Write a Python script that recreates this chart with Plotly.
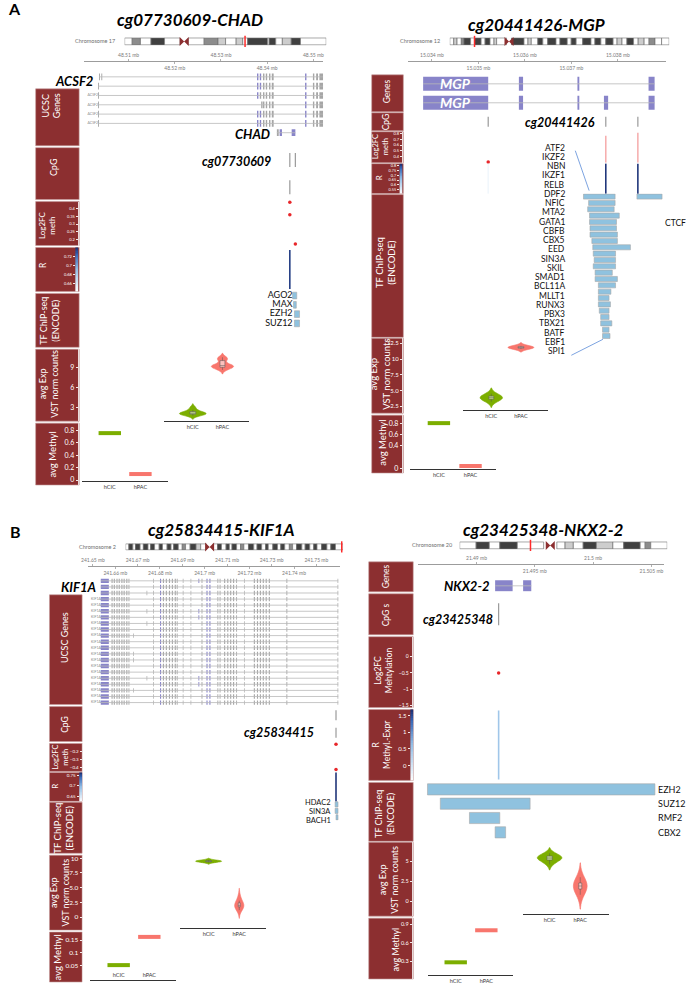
import numpy as np
import plotly.graph_objects as go

W, H = 686, 986
FONT = "Lato"
BOX_RED = "#8c2f30"
GREEN = "#7cae00"
RED = "#f8766d"
EXON = {"g": "#a6a6a6", "b": "#8884c9"}
BAND = {"w": "#ffffff", "l": "#cdcdcd", "g": "#8c8c8c", "d": "#404040", "c": "rgba(0,0,0,0)"}
TF_BLUE = "#8fc2df"
R_SCALE = [[0, "#ffffff"], [0.5, "#94bfe6"], [0.85, "#3565b4"], [1, "#1b2a6b"]]
GROUPS = ["hCIC", "hPAC"]

# ====================== DATA ======================
# ---- Panel A left: cg07730609-CHAD (chromosome 17) ----
A1_band_w = [23, 25, 32, 41, 47, 25, 48, 42, 23, 32, 20, 15, 60, 5, 20, 20, 27, 28, 78]
A1_band_c = list("wgwdwcwglwlwdwdwldw")
A1_cen, A1_mark = 180.5, 365
A1_ticks_top = [48.51, 48.53, 48.55]
A1_ticks_bot = [48.52, 48.54]
A1_acsf2_shared = [(48.5391, 48.5394, "g"), (48.5397, 48.5400, "g"), (48.5404, 48.5407, "g"),
                   (48.5410, 48.5414, "g"), (48.5482, 48.5485, "b"), (48.5499, 48.5502, "g"),
                   (48.5506, 48.5510, "g"), (48.5513, 48.5521, "g")]
A1_acsf2_first = [
    [(48.5036, 48.5038, "g"), (48.5041, 48.5043, "g"), (48.5378, 48.5381, "b"), (48.5384, 48.5387, "b")],
    [(48.5034, 48.5036, "g"), (48.5378, 48.5381, "b"), (48.5384, 48.5387, "b")],
    [(48.5034, 48.5036, "g"), (48.5378, 48.5381, "b"), (48.5384, 48.5387, "g")],
    [(48.5034, 48.5036, "g"), (48.5387, 48.5390, "g")],
    [(48.5034, 48.5036, "g"), (48.5378, 48.5381, "b"), (48.5384, 48.5387, "b")],
    [(48.5034, 48.5036, "g"), (48.5378, 48.5381, "b"), (48.5384, 48.5387, "b")],
]
A1_acsf2_start = [48.5036, 48.5034, 48.5034, 48.5034, 48.5034, 48.5034]
A1_acsf2_end = 48.5521
A1_chad = (48.5421, 48.5461, [(48.5421, 48.5425, "g"), (48.5427, 48.5432, "b"), (48.5453, 48.5461, "b")])
A1_cpg_pos = [48.5449, 48.5461, 48.5449]
A1_cpg_row = [0, 0, 1]
A1_fc_pos = [48.5449, 48.5449, 48.5461]
A1_fc_val = [0.44, 0.36, 0.17]
A1_r_pos = [48.5449]
A1_r_val = [0.735]
A1_tf_lab = ["AGO2", "MAX", "EZH2", "SUZ12"]
A1_tf_s = [48.5455, 48.5457, 48.5459, 48.5459]
A1_tf_e = [48.5464, 48.5463, 48.5470, 48.5470]
A1_exp_hcic = [1.7, 1.85, 1.95, 2.0, 2.05, 2.1, 2.2, 2.35, 2.6, 3.0]
A1_exp_hpac = [8.6, 8.9, 9.0, 9.1, 9.2, 9.3, 9.4, 10.0, 10.3, 10.5]
A1_meth = [0.752, 0.096]

# ---- Panel A right: cg20441426-MGP (chromosome 12) ----
A2_band_w = [12, 10, 13, 8, 20, 12, 20, 12, 15, 12, 8, 30, 15, 38, 12, 10, 20, 15, 15, 25,
             12, 22, 12, 15, 20, 25, 12, 18, 15, 22, 12, 15, 15, 20, 14, 18, 15, 18, 20, 23]
A2_band_c = list("wlwgdwdwdwlwcdwlwdwdwdwdwdwdwdwlwdwlwgww")
A2_cen, A2_mark = 179.5, 75
A2_ticks_top = [15.034, 15.036, 15.038]
A2_ticks_bot = [15.035, 15.037]
A2_mgp = [
    (15.03381, 15.03879, [(15.03381, 15.03521, "b"), (15.03587, 15.03596, "b"),
                          (15.03713, 15.03717, "b"), (15.03866, 15.03879, "b")]),
    (15.03381, 15.03879, [(15.03381, 15.03521, "b"), (15.03587, 15.03596, "b"),
                          (15.03713, 15.03717, "b"), (15.03770, 15.03779, "b"), (15.03866, 15.03879, "b")]),
]
A2_cpg_pos = [15.03521, 15.03774, 15.03843]
A2_fc_pos = [15.03521]
A2_fc_val = [0.31]
A2_fcbar_pos = [15.03774, 15.03843]
A2_fcbar_val = [0.76, 0.81]
A2_r_pos = [15.03521, 15.03774, 15.03843]
A2_r_val = [0.53, 0.81, 0.81]
A2_tf_lab = ["ATF2", "IKZF2", "NBN", "IKZF1", "RELB", "DPF2", "NFIC", "MTA2", "GATA1", "CBFB", "CBX5",
             "EED", "SIN3A", "SKIL", "SMAD1", "BCL11A", "MLLT1", "RUNX3", "PBX3", "TBX21", "BATF", "EBF1", "SPI1"]
A2_tf_s = [15.03726, 15.03737, 15.03735, 15.03739, 15.03739, 15.03740, 15.03740, 15.03744, 15.03746,
           15.03747, 15.03749, 15.03747, 15.03751, 15.03751, 15.03758, 15.03758, 15.03758, 15.03758,
           15.03760, 15.03763, 15.03763, 15.03767, 15.03767]
A2_tf_e = [15.03794, 15.03794, 15.03792, 15.03803, 15.03797, 15.03797, 15.03799, 15.03799, 15.03827,
           15.03795, 15.03795, 15.03795, 15.03788, 15.03799, 15.03795, 15.03785, 15.03781, 15.03784,
           15.03781, 15.03781, 15.03787, 15.03781, 15.03783]
A2_ctcf = (15.03841, 15.03895)
A2_exp_hcic = [3.2, 3.5, 3.7, 3.8, 3.9, 4.0, 4.2, 4.5]
A2_exp_hpac = [11.6, 11.7, 11.8, 11.8, 11.9, 12.0, 12.1]
A2_meth = [0.80, 0.036]

# ---- Panel B left: cg25834415-KIF1A (chromosome 2) ----
B1_band_w = [10, 12, 8, 14, 10, 14, 8, 12, 14, 10, 14, 12, 8, 14, 12, 10, 14, 18, 14, 17, 20,
             14, 12, 14, 10, 8, 14, 12, 10, 14, 16, 10, 14, 12, 8, 14, 14, 10, 12, 14, 10, 12, 16,
             10, 14, 12, 10, 14, 16, 12, 14, 23]
B1_band_c = list("wdwdwdwdwdwdwdwgwdlw" + "c" + "wdwdwdwgwdwdwdwdwdwgwdwdwdwdwdw")
B1_cen, B1_mark = 255, 656
B1_ticks_top = [241.65, 241.67, 241.69, 241.71, 241.73, 241.75]
B1_ticks_bot = [241.66, 241.68, 241.70, 241.72, 241.74]
B1_tx = (241.6535, 241.7598)
B1_exons_common = [
    (241.6535, 241.6571, "b"),
    (241.6583, 241.6588, "g"), (241.6593, 241.6598, "g"), (241.6605, 241.6610, "g"), (241.6615, 241.6620, "g"),
    (241.6627, 241.6632, "g"), (241.6637, 241.6642, "g"), (241.6649, 241.6654, "g"), (241.6659, 241.6663, "g"),
    (241.6769, 241.6772, "g"),
    (241.6800, 241.6805, "b"), (241.6813, 241.6818, "g"), (241.6826, 241.6831, "g"), (241.6840, 241.6845, "g"),
    (241.6853, 241.6858, "g"), (241.6866, 241.6871, "g"), (241.6875, 241.6879, "g"),
    (241.6902, 241.6905, "g"), (241.6937, 241.6940, "g"), (241.6986, 241.6990, "g"),
    (241.7008, 241.7013, "b"), (241.7021, 241.7026, "b"),
    (241.7057, 241.7061, "g"), (241.7067, 241.7071, "g"),
    (241.7087, 241.7092, "g"), (241.7101, 241.7106, "g"), (241.7114, 241.7119, "g"),
    (241.7127, 241.7132, "g"), (241.7141, 241.7145, "g"),
    (241.7176, 241.7179, "g"),
    (241.7220, 241.7225, "g"), (241.7234, 241.7239, "g"), (241.7247, 241.7252, "g"),
    (241.7260, 241.7265, "g"), (241.7273, 241.7278, "g"), (241.7287, 241.7292, "g"),
    (241.7366, 241.7370, "g"), (241.7595, 241.7598, "g"),
]
B1_opt_exons = [(241.6740, 241.6743, "g"), (241.6680, 241.6683, "g"), (241.6972, 241.6976, "b")]
B1_opt_rows = [[2, 5, 7, 16], [9, 12, 13, 18], [0, 5, 6, 16, 17]]
B1_n_tx = 21
B1_cpg_pos = [241.7588, 241.7588]
B1_cpg_row = [0, 1]
B1_fc_pos = [241.7588, 241.7588]
B1_fc_val = [-0.11, -0.425]
B1_r_pos = [241.7588]
B1_r_val = [0.76]
B1_tf_lab = ["HDAC2", "SIN3A", "BACH1"]
B1_tf_s = [241.7584, 241.7584, 241.7588]
B1_tf_e = [241.7597, 241.7597, 241.7597]
B1_exp_hcic = [9.3, 9.4, 9.45, 9.5, 9.55, 9.6, 9.7]
B1_exp_hpac = [1.2, 1.6, 1.8, 1.9, 2.0, 2.1, 2.3, 2.8, 3.5]
B1_meth = [0.051, 0.163]

# ---- Panel B right: cg23425348-NKX2-2 (chromosome 20) ----
B2_band_w = [50, 40, 32, 53, 80, 40, 25, 25, 30, 40, 50, 33, 50, 15, 17, 50]
B2_band_c = list("wdwdwcwlwdlwdwgw")
B2_cen, B2_mark = 275, 215
B2_ticks_top = [21.49, 21.50]
B2_ticks_bot = [21.495, 21.505]
B2_nkx = [(21.4916, 21.4947, [(21.4916, 21.4931, "b"), (21.4940, 21.4947, "b")])]
B2_cpg_pos = [21.4919]
B2_fc_pos = [21.4919]
B2_fc_val = [-0.5]
B2_r_pos = [21.4919]
B2_r_val = [0.5]
B2_tf_lab = ["EZH2", "SUZ12", "RMF2", "CBX2"]
B2_tf_s = [21.4858, 21.4869, 21.4894, 21.4916]
B2_tf_e = [21.5053, 21.4946, 21.4920, 21.4925]
B2_exp_hcic = [4.6, 5.0, 5.2, 5.3, 5.4, 5.5, 5.6, 5.8, 6.0]
B2_exp_hpac = [0.8, 1.3, 1.6, 1.8, 1.9, 2.0, 2.2, 2.5, 3.0]
B2_meth = [0.28, 0.80]

# ====================== HELPERS ======================
fig = go.Figure()
LAY, ANN, SHP = {}, [], []
_cnt = {"x": 0, "y": 0}


def add(tr):
    tr.update(showlegend=False, hoverinfo="skip")
    fig.add_trace(tr)


def _new(kind):
    _cnt[kind] += 1
    i = _cnt[kind]
    s = "" if i == 1 else str(i)
    return kind + s, kind + "axis" + s


def xax(p0, p1, rng, **kw):
    ref, key = _new("x")
    d = dict(domain=[p0 / W, p1 / W], range=list(rng), anchor="free", position=0,
             visible=False, fixedrange=True, showgrid=False, zeroline=False)
    d.update(kw)
    LAY[key] = d
    return ref


def yax(top, bot, rng, **kw):
    ref, key = _new("y")
    d = dict(domain=[1 - bot / H, 1 - top / H], range=list(rng), anchor="free", position=0,
             visible=False, fixedrange=True, showgrid=False, zeroline=False)
    d.update(kw)
    LAY[key] = d
    return ref


def yticks(xpos, vals, size, text=None, line=True):
    d = dict(visible=True, position=xpos / W, side="left", tickvals=vals, showline=line,
             linecolor="#e9dada", linewidth=1, ticks="outside", ticklen=2.5, tickwidth=1,
             tickcolor="#f3e9e9", tickfont=dict(size=size, color="white", family=FONT))
    if text is not None:
        d["ticktext"] = text
    return d


def ann(x, y, text, size=9, color="black", xanchor="center", angle=0):
    ANN.append(dict(x=x / W, y=1 - y / H, xref="paper", yref="paper", text=text, showarrow=False,
                    font=dict(size=size, color=color, family=FONT), xanchor=xanchor,
                    yanchor="middle", textangle=angle))


def boxes(x0, x1, items):
    for label, y0, y1, lx, ly, size in items:
        SHP.append(dict(type="rect", xref="paper", yref="paper", x0=x0 / W, x1=x1 / W,
                        y0=1 - y1 / H, y1=1 - y0 / H, fillcolor=BOX_RED,
                        line=dict(color="#c49a9a", width=0.6), layer="below"))
        ann(lx, ly, label, size=size, color="white", angle=-90)


def ideogram(x0, x1, y0, y1, widths, codes, cen, mark, label, label_x):
    w = np.array(widths, float)
    ix = xax(x0, x1, (0, w.sum()))
    iy = yax(y0 - 0.7, y1 + 0.7, (-0.6, 0.6))
    base = np.concatenate([[0], np.cumsum(w)[:-1]])
    add(go.Bar(x=w, y=[0] * len(w), base=base, orientation="h", width=1,
               marker=dict(color=[BAND[c] for c in codes],
                           line=dict(color=["rgba(0,0,0,0)" if c == "c" else "#707070" for c in codes],
                                     width=0.7)),
               xaxis=ix, yaxis=iy))
    add(go.Scatter(x=[cen], y=[0], mode="markers", marker=dict(symbol="bowtie", size=9, color=BOX_RED),
                   xaxis=ix, yaxis=iy, cliponaxis=False))
    add(go.Scatter(x=[mark], y=[0], mode="markers",
                   marker=dict(symbol="line-ns-open", size=8, color="#ff2a2a", line=dict(width=1.5)),
                   xaxis=ix, yaxis=iy, cliponaxis=False))
    ann(label_x, (y0 + y1) / 2, label, size=5.5, color="#6d6d6d", xanchor="right")


def genome_axis(x0, x1, yline, mb0, mb1, top, bot):
    common = dict(visible=True, position=1 - yline / H, showline=True, linecolor="#9c9c9c", linewidth=1,
                  ticks="outside", ticklen=2, tickwidth=0.8, tickcolor="#9c9c9c",
                  tickfont=dict(size=5, color="#7a7a7a", family=FONT))
    gx = xax(x0, x1, (mb0, mb1), side="bottom", tickvals=bot,
             ticktext=[f"{v:g} mb" for v in bot], **common)
    tx = xax(x0, x1, (mb0, mb1), side="top", overlaying=gx, tickvals=top,
             ticktext=[f"{v:g} mb" for v in top], **common)
    dy = yax(yline - 1, yline, (0, 1))
    add(go.Scatter(x=[mb0], y=[0.5], mode="markers", marker=dict(opacity=0), xaxis=tx, yaxis=dy))
    return gx


def gene_track(gx, top, bot, rows, height, small_label=None, small_rows=()):
    n = len(rows)
    gy = yax(top, bot, (n - 0.5, -0.5))
    lx, ly, bs, bl, br, bc = [], [], [], [], [], []
    for r, (s, e, exons) in enumerate(rows):
        lx += [s, e, None]
        ly += [r, r, None]
        for a, b, c in exons:
            bs.append(a); bl.append(b - a); br.append(r); bc.append(EXON[c])
    add(go.Scatter(x=lx, y=ly, mode="lines", line=dict(color="#b9b9b9", width=0.8), xaxis=gx, yaxis=gy))
    add(go.Bar(x=bl, y=br, base=bs, orientation="h", width=height,
               marker=dict(color=bc, line=dict(width=0)), xaxis=gx, yaxis=gy))
    if small_label:
        add(go.Scatter(x=[rows[r][0] for r in small_rows], y=list(small_rows), mode="text",
                       text=[small_label] * len(small_rows), textposition="middle left",
                       textfont=dict(size=3.5, color="#8a8a8a", family=FONT),
                       xaxis=gx, yaxis=gy, cliponaxis=False))
    return gy


def cpg_track(gx, top, bot, rng, pos, rows, length):
    gy = yax(top, bot, rng)
    add(go.Scatter(x=pos, y=rows, mode="markers",
                   marker=dict(symbol="line-ns-open", size=length / 1.4, color="#9a9a9a", line=dict(width=1.2)),
                   xaxis=gx, yaxis=gy, cliponaxis=False))


def fc_track(gx, top, bot, rng, axis_x, ticks, tsize, pos, vals, bar_pos=None, bar_vals=None, bar_w=0):
    gy = yax(top, bot, rng, **yticks(axis_x, ticks, tsize))
    if bar_pos:
        add(go.Bar(x=bar_pos, y=np.array(bar_vals) - rng[0], base=rng[0], width=bar_w,
                   marker=dict(color="#f5a5a5", line=dict(width=0)), xaxis=gx, yaxis=gy))
    add(go.Scatter(x=pos, y=vals, mode="markers", marker=dict(color="#e8262a", size=3.5),
                   xaxis=gx, yaxis=gy, cliponaxis=False))


def r_track(gx, top, bot, rng, strip, ticks, tsize, pos, vals, length):
    gy = yax(top, bot, rng, **yticks(strip[0], ticks, tsize, line=False))
    sx = xax(strip[0], strip[1], (0, 1))
    lv = np.linspace(rng[0], rng[1], 40)
    add(go.Heatmap(x=[0.5], y=lv, z=[[v] for v in lv], colorscale=R_SCALE, zmin=rng[0], zmax=rng[1],
                   showscale=False, xaxis=sx, yaxis=gy))
    mid = [(rng[0] + rng[1]) / 2] * len(pos)
    add(go.Scatter(x=pos, y=mid, mode="markers",
                   marker=dict(symbol="line-ns-open", size=length / 1.4, color=vals, colorscale=R_SCALE,
                               cmin=rng[0], cmax=rng[1], line=dict(width=1.6)),
                   xaxis=gx, yaxis=gy, cliponaxis=False))


def tf_track(gx, top, bot, rng, starts, ends, rows, height, labels=None, lsize=9):
    gy = yax(top, bot, rng)
    s, e = np.array(starts), np.array(ends)
    add(go.Bar(x=e - s, y=rows, base=s, orientation="h", width=height,
               marker=dict(color=TF_BLUE, line=dict(color="#a7a7a7", width=0.6)), xaxis=gx, yaxis=gy))
    if labels:
        n = len(labels)
        add(go.Scatter(x=[s[:n].min()] * n, y=rows[:n], mode="text", text=labels,
                       textposition="middle left",
                       textfont=dict(size=lsize, color="#111111", family=FONT),
                       xaxis=gx, yaxis=gy, cliponaxis=False))


def cat_axis(x0, x1, rng, ybase, **kw):
    d = dict(visible=True, type="category", categoryorder="array", categoryarray=GROUPS,
             position=1 - ybase / H, side="bottom", showline=True, linecolor="#333333", linewidth=1.2,
             ticks="", tickfont=dict(size=5.5, color="#333333", family=FONT))
    d.update(kw)
    return xax(x0, x1, rng, **d)


def exp_block(top, bot, rng, axis_x, ticks, tsize, ttext, vx0, vx1, vbase, vrng, green, red, bws, widths):
    ey = yax(top, bot, rng, **yticks(axis_x, ticks, tsize, text=ttext))
    vx = cat_axis(vx0, vx1, vrng, vbase)
    for grp, vals, col, bw, wd in zip(GROUPS, [green, red], [GREEN, RED], bws, widths):
        add(go.Violin(x=[grp] * len(vals), y=vals, xaxis=vx, yaxis=ey, fillcolor=col,
                      line=dict(color=col, width=0.6), opacity=1, width=wd, bandwidth=bw,
                      spanmode="soft", points=False,
                      box=dict(visible=True, width=0.22, fillcolor="rgba(255,255,255,0.55)",
                               line=dict(color="#555555", width=0.5)),
                      meanline=dict(visible=False)))


def meth_block(top, bot, rng, axis_x, ticks, tsize, mx0, mx1, mbase, mrng, vals, **kw):
    my = yax(top, bot, rng, **yticks(axis_x, ticks, tsize))
    mx = cat_axis(mx0, mx1, mrng, mbase, **kw)
    add(go.Scatter(x=GROUPS, y=vals, mode="markers",
                   marker=dict(symbol="line-ew-open", size=16, color=[GREEN, RED], line=dict(width=4)),
                   xaxis=mx, yaxis=my, cliponaxis=False))


def title(x, y, text):
    ann(x, y, f"<b><i>{text}</i></b>", size=17)


def blabel(x, y, text, size=13, xanchor="center", color="black"):
    ann(x, y, f"<b><i>{text}</i></b>", size=size, xanchor=xanchor, color=color)


# ====================== PANEL A LEFT ======================
ann(8, 8, "<b>A</b>", size=16)
title(185, 19, "cg07730609-CHAD")
ideogram(119, 323, 37, 44, A1_band_w, A1_band_c, A1_cen, A1_mark, "Chromosome 17", 111)
gx = genome_axis(78, 320, 60, 48.50037, 48.55214, A1_ticks_top, A1_ticks_bot)
A1_rows = [(A1_acsf2_start[i], A1_acsf2_end, A1_acsf2_first[i] + A1_acsf2_shared) for i in range(6)]
A1_rows.append(A1_chad)
gene_track(gx, 71.35, 136.65, A1_rows, 0.72, "ACSF2", [2, 3, 4, 5])
blabel(89, 80, "ACSF2", xanchor="right")
blabel(268, 133, "CHAD", xanchor="right")
cpg_track(gx, 147, 199, (1.45, -0.45), A1_cpg_pos, A1_cpg_row, 14)
blabel(232, 161, "cg07730609", size=12.5)
fc_track(gx, 201, 245, (0.161, 0.445), 72, [0.2, 0.25, 0.3, 0.35, 0.4], 4, A1_fc_pos, A1_fc_val)
r_track(gx, 247, 291, (0.642, 0.74), (69, 72.5), [0.66, 0.68, 0.7, 0.72], 4, A1_r_pos, A1_r_val, 39)
tf_track(gx, 290.5, 327.7, (3.5, -0.5), A1_tf_s, A1_tf_e, list(range(4)), 0.72, A1_tf_lab, 9)
exp_block(349, 421, (0.9, 11.7), 72, [3, 6, 9], 7, None, 159, 245, 421, (-0.967, 1.9),
          A1_exp_hcic, A1_exp_hpac, (0.25, 0.3), (0.9, 0.75))
meth_block(423, 485, (-0.08, 0.912), 72, [0, 0.2, 0.4, 0.6, 0.8], 7, 76, 163, 481, (-0.903, 1.903), A1_meth)
boxes(29, 73, [("UCSC<br>Genes", 88, 145, 45, 105, 9), ("CpG", 147, 199, 47, 166, 9),
               ("Log2FC<br>meth", 201, 245, 40, 225, 8), ("R", 247, 291, 37, 265, 8.5),
               ("TF ChIP-seq<br>(ENCODE)", 293, 347, 43, 320, 9),
               ("avg Exp<br>VST norm counts", 349, 421, 42, 384, 9), ("avg Methyl", 423, 485, 46, 454, 9.5)])

# ====================== PANEL A RIGHT ======================
title(536, 24, "cg20441426-MGP")
ideogram(448, 670, 37, 44, A2_band_w, A2_band_c, A2_cen, A2_mark, "Chromosome 12", 440)
gx = genome_axis(406, 667, 60, 15.03349, 15.03904, A2_ticks_top, A2_ticks_bot)
gene_track(gx, 73.5, 111.5, A2_mgp, 0.74)
blabel(454, 83, "MGP", size=14, color="white")
blabel(454, 102, "MGP", size=14, color="white")
cpg_track(gx, 112, 130, (-0.5, 0.5), A2_cpg_pos, [0, 0, 0], 10)
blabel(560, 122, "cg20441426", size=12.5)
fc_track(gx, 131, 162, (0.297, 0.829), 400, [0.4, 0.5, 0.6, 0.7, 0.8], 4, A2_fc_pos, A2_fc_val,
         A2_fcbar_pos, A2_fcbar_val, 0.00003)
r_track(gx, 163, 193, (0.51, 0.82), (397, 400.5), [0.55, 0.6, 0.65, 0.7, 0.75, 0.8], 3.8, A2_r_pos, A2_r_val, 30)
tf_track(gx, 192.8, 338.9, (22.5, -0.5), A2_tf_s + [A2_ctcf[0]], A2_tf_e + [A2_ctcf[1]],
         list(range(23)) + [0], 0.8)
for k, lab in enumerate(A2_tf_lab):
    ann(567, 147 + 9.27 * k, lab, size=8.5, xanchor="right", color="#111111")
ann(664, 222, "CTCF", size=8.5, xanchor="left", color="#111111")
SHP.append(dict(type="line", xref="paper", yref="paper", x0=575 / W, y0=1 - 150 / H, x1=589 / W, y1=1 - 190 / H,
                line=dict(color="#5b8bd8", width=0.8)))
SHP.append(dict(type="line", xref="paper", yref="paper", x0=571 / W, y0=1 - 355 / H, x1=603 / W, y1=1 - 339 / H,
                line=dict(color="#5b8bd8", width=0.8)))
exp_block(338, 413, (1.39, 13.29), 400, [2.5, 5, 7.5, 10, 12.5], 6, ["2.5", "5.0", "7.5", "10", "12.5"],
          461, 547, 410, (-0.967, 1.9), A2_exp_hcic, A2_exp_hpac, (0.45, 0.25), (0.75, 0.87))
meth_block(415, 473, (-0.089, 0.942), 400, [0, 0.4, 0.6, 0.8], 7, 408, 495, 469, (-0.906, 1.812), A2_meth)
boxes(369, 401, [("Genes", 74, 111, 384, 91, 8.5), ("CpG", 112, 130, 383, 121, 8.5),
                 ("Log2FC<br>meth", 131, 162, 378, 146, 7.5), ("R", 163, 193, 376, 177, 8),
                 ("TF ChIP-seq<br>(ENCODE)", 194, 337, 383, 262, 9.5),
                 ("avg Exp<br>VST norm counts", 338, 413, 377, 374, 9.5), ("avg Methyl", 415, 473, 380, 443, 9.5)])

# ====================== PANEL B LEFT ======================
ann(9, 532, "<b>B</b>", size=16)
title(217, 530, "cg25834415-KIF1A")
ideogram(120, 340, 544, 550, B1_band_w, B1_band_c, B1_cen, B1_mark, "Chromosome 2", 112)
gx = genome_axis(82, 337, 566, 241.64779, 241.76062, B1_ticks_top, B1_ticks_bot)
B1_rows = []
for r in range(B1_n_tx):
    ex = list(B1_exons_common)
    for opt, rws in zip(B1_opt_exons, B1_opt_rows):
        if r in rws:
            ex.append(opt)
    B1_rows.append((B1_tx[0], B1_tx[1], ex))
gene_track(gx, 577.95, 706.05, B1_rows, 0.72, "KIF1A", list(range(3, B1_n_tx)))
blabel(92, 587, "KIF1A", xanchor="right")
cpg_track(gx, 707, 742, (1.5, -0.5), B1_cpg_pos, B1_cpg_row, 10)
blabel(275, 733, "cg25834415", size=12.5)
fc_track(gx, 744, 772, (-0.45, -0.1), 76, [-0.4, -0.3, -0.2], 4.5, B1_fc_pos, B1_fc_val)
r_track(gx, 773, 802, (0.626, 0.764), (73, 76.5), [0.65, 0.7, 0.75], 4.5, B1_r_pos, B1_r_val, 29)
tf_track(gx, 801.75, 821.25, (2.5, -0.5), B1_tf_s, B1_tf_e, list(range(3)), 0.8)
for k, lab in enumerate(B1_tf_lab):
    ann(330, 803 + 9 * k, lab, size=7.5, xanchor="right", color="#111111")
exp_block(856, 931, (-2.2, 10.51), 76, [0, 2.5, 5, 7.5, 10], 6.5, ["0", "2.5", "5.0", "7.5", "10"],
          175, 262, 929, (-0.935, 1.871), B1_exp_hcic, B1_exp_hpac, (0.15, 0.7), (0.85, 0.3))
meth_block(933, 983, (-0.016, 0.182), 76, [0, 0.05, 0.1, 0.15], 6.5, 84, 171, 981, (-0.935, 1.871), B1_meth,
           ticklabelposition="inside")
boxes(43, 76, [("UCSC Genes", 595, 705, 58, 638, 9), ("CpG", 707, 742, 58, 725, 8.5),
               ("Log2FC<br>meth", 744, 772, 54, 758, 7.5), ("R", 773, 802, 49, 787, 8),
               ("TF ChIP-seq<br>(ENCODE)", 803, 854, 57, 829, 9.5),
               ("avg Exp<br>VST norm counts", 856, 931, 53, 893, 9), ("avg Methyl", 933, 983, 51, 958, 9.5)])

# ====================== PANEL B RIGHT ======================
title(543, 530, "cg23425348-NKX2-2")
ideogram(458, 668, 542, 549, B2_band_w, B2_band_c, B2_cen, B2_mark, "Chromosome 20", 453)
gx = genome_axis(416, 665, 564, 21.485, 21.5061, B2_ticks_top, B2_ticks_bot)
gene_track(gx, 580, 592, B2_nkx, 0.92)
blabel(490, 586, "NKX2-2", xanchor="right")
cpg_track(gx, 594, 635, (-0.5, 0.5), B2_cpg_pos, [0], 22)
blabel(456, 620, "cg23425348", size=12.5)
fc_track(gx, 637, 708, (-1.56, 0.61), 410, [-1.5, -1, -0.5, 0], 5, B2_fc_pos, B2_fc_val)
r_track(gx, 710, 781, (-0.45, 1.68), (408, 411.5), [0, 0.5, 1, 1.5], 6, B2_r_pos, B2_r_val, 69)
tf_track(gx, 782.8, 840.2, (3.5, -0.5), B2_tf_s, B2_tf_e, list(range(4)), 0.78)
for k, lab in enumerate(B2_tf_lab):
    ann(657, 790 + 14.33 * k, lab, size=9, xanchor="left", color="#111111")
exp_block(843, 917, (-1.875, 7.375), 410, [0, 2.5, 5], 5.5, None, 522, 609, 915, (-0.871, 1.935),
          B2_exp_hcic, B2_exp_hpac, (0.35, 0.9), (0.8, 0.45))
meth_block(919, 980, (0.009, 0.997), 410, [0.3, 0.6, 0.9], 5.5, 426, 512, 976, (-0.903, 1.871), B2_meth)
boxes(366, 411, [("Genes", 562, 592, 383, 577, 8.5), ("CpG s", 594, 635, 383, 615, 8.5),
                 ("Log2FC<br>Mehtylation", 637, 708, 381, 671, 8.5), ("R<br>Methyl.-Expr", 710, 781, 379, 745, 8.5),
                 ("TF ChIP-seq<br>(ENCODE)", 783, 842, 382, 815, 9),
                 ("avg Exp<br>VST norm counts", 843, 917, 386, 880, 9), ("avg Methyl", 919, 980, 393, 950, 9)])

fig.update_layout(width=W, height=H, margin=dict(l=0, r=0, t=0, b=0), paper_bgcolor="white",
                  plot_bgcolor="rgba(0,0,0,0)", showlegend=False, barmode="overlay", violinmode="overlay",
                  annotations=ANN, shapes=SHP, font=dict(family=FONT), **LAY)
fig.write_html("out.html", config={"displayModeBar": False, "staticPlot": True},
               post_script="document.body.style.margin='0px';document.body.style.overflow='hidden';")
